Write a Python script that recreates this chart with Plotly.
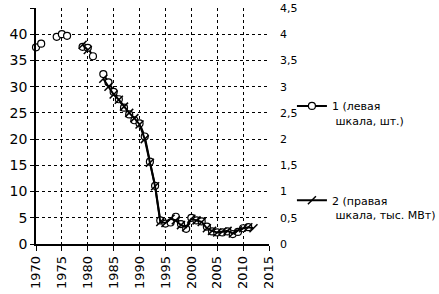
import plotly.graph_objects as go

years = list(range(1970, 2013))
# Series 1: left scale (units)
s1 = [37.5, 38.2, None, None, 39.5, 40.0, 39.7, None, None, 37.6,
      37.4, 35.8, None, 32.4, 30.8, 29.0, 27.6, 26.0, 24.7, 23.6,
      23.0, 20.5, 15.7, 11.1, 4.5, 3.9, 4.1, 5.2, 3.8, 2.9,
      5.0, 4.5, 4.3, 3.3, 2.4, 2.2, 2.2, 2.4, 1.9, 2.3,
      3.0, 3.2, None]
# Series 2: right scale (thousand MW)
s2 = [None, None, None, None, None, None, None, None, None, 3.8,
      3.7, None, None, 3.15, 3.0, 2.85, 2.75, 2.62, 2.5, 2.4,
      2.28, 2.0, 1.55, 1.1, 0.42, 0.4, 0.48, 0.45, 0.36, 0.32,
      0.48, 0.45, 0.42, 0.3, 0.25, 0.22, 0.24, 0.25, 0.2, 0.26,
      0.3, 0.32, 0.3]

x_ticks = list(range(1970, 2016, 5))
left_ticks = list(range(0, 46, 5))
right_ticks = [0, 0.5, 1, 1.5, 2, 2.5, 3, 3.5, 4, 4.5]
right_labels = ["0", "0,5", "1", "1,5", "2", "2,5", "3", "3,5", "4", "4,5"]

name1 = "1 (левая<br> шкала, шт.)"
name2 = "2 (правая<br> шкала, тыс. МВт)"

fig = go.Figure()
fig.add_trace(go.Scatter(
    x=years, y=s2, name=name2, yaxis="y2", mode="lines+markers",
    line=dict(color="black", width=2),
    marker=dict(symbol="line-ne", size=8, line=dict(color="black", width=1.5)),
    connectgaps=False, cliponaxis=False, legend="legend2"))
fig.add_trace(go.Scatter(
    x=years, y=s1, name=name1, mode="lines+markers",
    line=dict(color="black", width=2),
    marker=dict(symbol="circle", size=7, color="white",
                line=dict(color="black", width=1.2)),
    connectgaps=False, cliponaxis=False, legend="legend"))

fig.update_layout(
    width=439, height=294,
    margin=dict(l=36, r=170, t=8, b=50, autoexpand=False),
    paper_bgcolor="white", plot_bgcolor="white",
    font=dict(family="DejaVu Sans", size=12, color="black"),
    xaxis=dict(range=[1970, 2015], tickvals=x_ticks, tickangle=-90,
               showgrid=True, gridcolor="black", griddash="dot", gridwidth=1,
               showline=True, linecolor="black", linewidth=1.5,
               ticks="outside", ticklen=5, tickcolor="black",
               zeroline=False, tickfont=dict(size=13), automargin=False),
    yaxis=dict(range=[0, 45], tickvals=left_ticks,
               showgrid=True, gridcolor="black", griddash="dot", gridwidth=1,
               showline=True, linecolor="black", linewidth=1.5,
               ticks="outside", ticklen=4, tickcolor="black",
               zeroline=False, tickfont=dict(size=14), automargin=False),
    yaxis2=dict(range=[0, 4.5], tickvals=right_ticks, ticktext=right_labels,
                overlaying="y", side="right", showgrid=False,
                showline=False, zeroline=False, ticks="", automargin=False,
                ticklabelstandoff=10, tickfont=dict(size=11)),
    legend=dict(x=0.665, xref="container", xanchor="left",
                y=0.686, yref="container", yanchor="top", valign="top",
                font=dict(size=11, family="DejaVu Sans"),
                bgcolor="rgba(0,0,0,0)", itemwidth=30),
    legend2=dict(x=0.665, xref="container", xanchor="left",
                 y=0.365, yref="container", yanchor="top", valign="top",
                 font=dict(size=11, family="DejaVu Sans"),
                 bgcolor="rgba(0,0,0,0)", itemwidth=30),
    showlegend=True,
)
fig.write_html("out.html")
